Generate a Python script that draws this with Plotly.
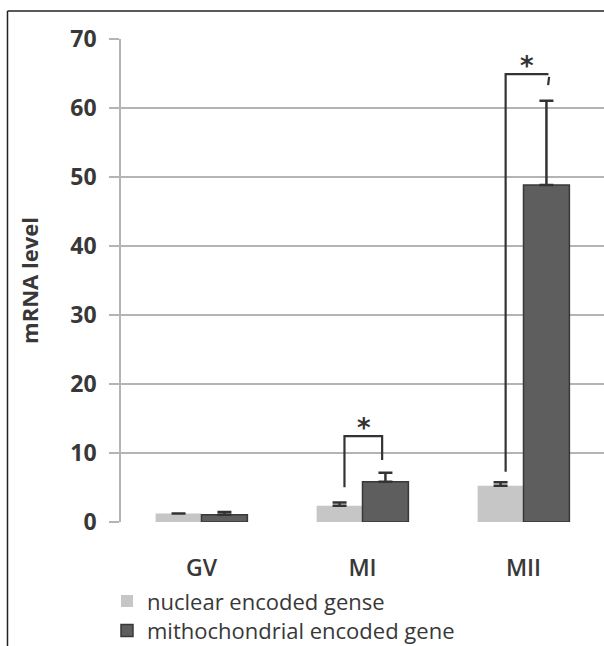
import plotly.graph_objects as go

categories = ["GV", "MI", "MII"]
nuclear = [1.25, 2.36, 5.26]
nuclear_err = [None, 0.45, 0.5]
mito = [1.05, 5.84, 48.84]
mito_err = [0.4, 1.3, 12.2]
series_names = ["nuclear encoded gense", "mithochondrial encoded gene"]
y_ticks = [0, 10, 20, 30, 40, 50, 60, 70]

# significance brackets: category index, left leg bottom, top, right leg bottom
bracket_cat = [1, 2]
bracket_left_bottom = [5.03, 7.29]
bracket_top = [12.46, 64.9]
bracket_right_bottom = [8.99, 63.3]
star_y = [14.4, 66.8]

TXT = "#383838"
GRID = "#b4b4b4"
FONT = "Open Sans"
x_idx = list(range(len(categories)))

fig = go.Figure()
fig.add_trace(go.Bar(
    x=x_idx, y=nuclear, name=series_names[0], legend="legend",
    marker=dict(color="#c6c6c6", line=dict(width=0)),
    error_y=dict(type="data", array=[e if e is not None else float("nan") for e in nuclear_err],
                 arrayminus=[0] * 3, symmetric=False,
                 color="#333333", thickness=2.5, width=7),
))
fig.add_trace(go.Bar(
    x=x_idx, y=mito, name=series_names[1], legend="legend2",
    marker=dict(color="#5e5e5e", line=dict(width=1.5, color="#383838")),
    error_y=dict(type="data", array=mito_err, arrayminus=[0] * 3, symmetric=False,
                 color="#333333", thickness=2.5, width=7),
))

left_off = [-0.112, -0.111]
right_off = [0.122, 0.155]
star_off = [0.01, 0.023]
for i, c in enumerate(bracket_cat):
    xl = c + left_off[i]
    xr = c + right_off[i]
    if i == 0:
        xs = [xl, xl, xr, xr]
        ys = [bracket_left_bottom[i], bracket_top[i], bracket_top[i], bracket_right_bottom[i]]
        fig.add_trace(go.Scatter(x=xs, y=ys, mode="lines", showlegend=False, hoverinfo="skip",
                                 line=dict(color="#333333", width=2.2)))
    else:
        fig.add_trace(go.Scatter(x=[xl, xl, xr], y=[bracket_left_bottom[i], bracket_top[i], bracket_top[i]],
                                 mode="lines", showlegend=False, hoverinfo="skip",
                                 line=dict(color="#333333", width=2.2)))
        fig.add_trace(go.Scatter(x=[xr + 0.004, xr - 0.002], y=[bracket_top[i] - 0.4, bracket_right_bottom[i]],
                                 mode="lines", showlegend=False, hoverinfo="skip",
                                 line=dict(color="#333333", width=2.2)))
    fig.add_annotation(x=c + star_off[i], y=star_y[i], text="*", showarrow=False,
                       font=dict(family="DejaVu Sans", size=26, color="#333333", weight="bold"),
                       yanchor="middle", yshift=-5)

# outer frame (left and top)
fig.add_shape(type="line", xref="paper", yref="paper", x0=-0.235, x1=-0.235, y0=-0.3, y1=1.058,
              line=dict(color="#222222", width=1.5))
fig.add_shape(type="line", xref="paper", yref="paper", x0=-0.235, x1=1.05, y0=1.058, y1=1.058,
              line=dict(color="#222222", width=1.5))

leg_common = dict(xanchor="left", yanchor="middle", bgcolor="rgba(0,0,0,0)",
                  font=dict(family=FONT, size=22, color=TXT))

fig.update_layout(
    width=604, height=646,
    margin=dict(l=121, r=0, t=39, b=124, autoexpand=False),
    paper_bgcolor="white", plot_bgcolor="white",
    barmode="group", bargap=0.43, bargroupgap=0,
    font=dict(family=FONT, color=TXT),
    showlegend=True,
    legend=dict(x=-0.029, y=-0.1639, **leg_common),
    legend2=dict(x=-0.029, y=-0.2253, **leg_common),
    xaxis=dict(range=[-0.5, 2.5], tickvals=x_idx, ticktext=categories,
               showgrid=False, zeroline=False, showline=False, ticks="",
               tickfont=dict(family=FONT, size=23, color=TXT, weight=600),
               ticklabelstandoff=30),
    yaxis=dict(range=[0, 70], tickvals=y_ticks, showgrid=True, gridcolor=GRID, gridwidth=1.5,
               zeroline=False, showline=True, linecolor=GRID, linewidth=1.5,
               ticks="outside", ticklen=10, tickcolor=GRID, tickwidth=1.5,
               tickfont=dict(family=FONT, size=23, color=TXT, weight="bold"),
               ticklabelstandoff=8,
               title=dict(text="mRNA level", font=dict(family=FONT, size=22, color=TXT, weight="bold"),
                          standoff=26)),
)

fig.write_html("out.html", config={"displayModeBar": False},
               post_script="document.body.style.margin='0px';document.body.style.overflow='hidden';")
